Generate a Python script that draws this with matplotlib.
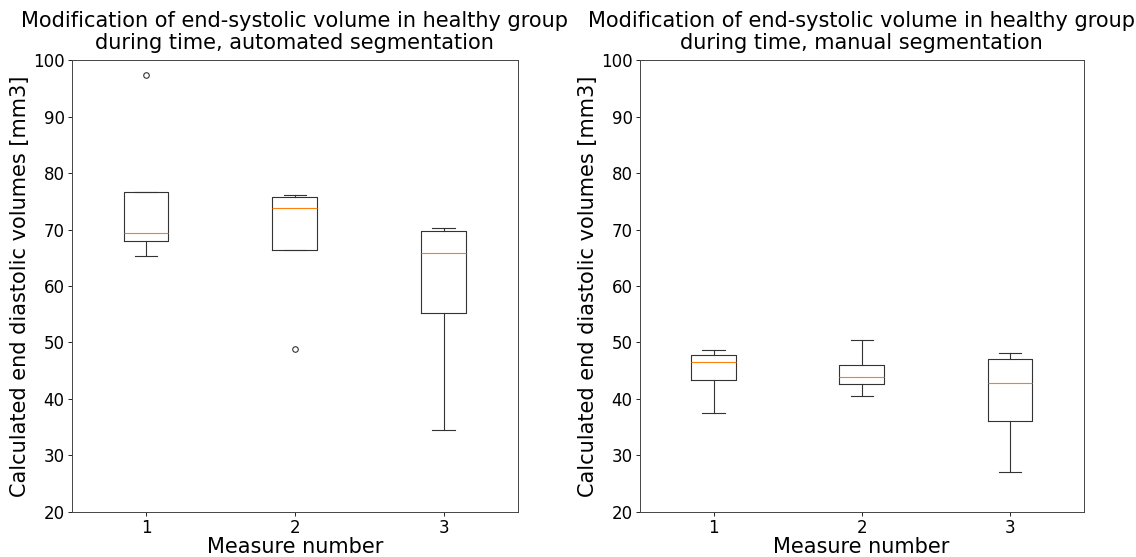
import numpy as np
import matplotlib.pyplot as plt

# box statistics, one entry per measure
measures = [1, 2, 3]

auto_whislo = [65.3, 66.4, 34.5]
auto_q1 = [68.05, 66.4, 55.3]
auto_med = [69.4, 73.9, 65.9]
auto_q3 = [76.7, 75.7, 69.75]
auto_whishi = [76.7, 76.2, 70.2]
auto_fliers = [[97.3], [48.9], []]

man_whislo = [37.5, 40.5, 27.0]
man_q1 = [43.4, 42.6, 36.1]
man_med = [46.5, 43.9, 42.85]
man_q3 = [47.8, 46.0, 47.0]
man_whishi = [48.7, 50.5, 48.2]
man_fliers = [[], [], []]


def make_stats(whislo, q1, med, q3, whishi, fliers):
    stats = []
    for i in range(len(measures)):
        stats.append({'label': str(measures[i]), 'whislo': whislo[i], 'q1': q1[i],
                      'med': med[i], 'q3': q3[i], 'whishi': whishi[i],
                      'fliers': np.array(fliers[i])})
    return stats


lw = 0.8
line = {'linewidth': lw, 'color': '#333333'}

fig = plt.figure(figsize=(11.36, 5.57), dpi=100)
ax1 = fig.add_axes([0.063, 0.081, 0.393, 0.811])
ax2 = fig.add_axes([0.563, 0.081, 0.391, 0.811])

panels = [
    (ax1, make_stats(auto_whislo, auto_q1, auto_med, auto_q3, auto_whishi, auto_fliers),
     'Modification of end-systolic volume in healthy group\nduring time, automated segmentation'),
    (ax2, make_stats(man_whislo, man_q1, man_med, man_q3, man_whishi, man_fliers),
     'Modification of end-systolic volume in healthy group\nduring time, manual segmentation'),
]

for ax, stats, title in panels:
    ax.bxp(stats, positions=measures, widths=0.3,
           boxprops=line, whiskerprops=line, capprops=line,
           medianprops={'linewidth': lw, 'color': 'C1'},
           flierprops={'marker': 'o', 'markersize': 4, 'markeredgewidth': 0.8,
                       'markeredgecolor': '#333333', 'markerfacecolor': 'none'})
    ax.set_xlim(0.5, 3.5)
    ax.set_ylim(20, 100)
    ax.set_title(title, fontsize=15, linespacing=1.1, pad=8)
    ax.set_xlabel('Measure number', fontsize=15, labelpad=0)
    ax.set_ylabel('Calculated end diastolic volumes [mm3]', fontsize=15, labelpad=2)
    ax.tick_params(labelsize=12, length=3, width=0.6, pad=2)
    for s in ax.spines.values():
        s.set_linewidth(0.7)
        s.set_color('#444444')

fig.savefig('out.png', dpi=100)
